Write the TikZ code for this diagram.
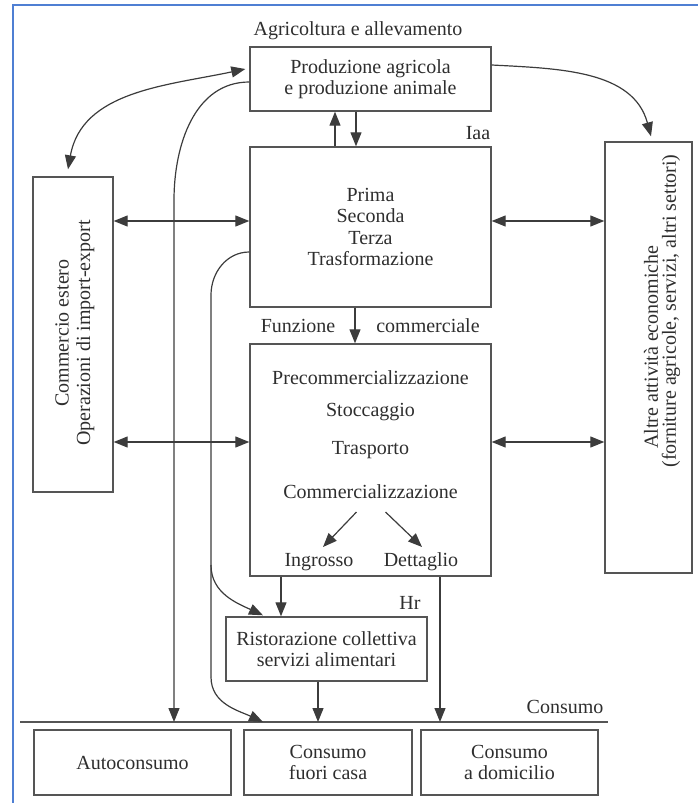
\documentclass[tikz,border=0pt]{standalone}
\usepackage{fontspec}
\setmainfont{Liberation Serif}
\usetikzlibrary{arrows.meta,calc}
\definecolor{linec}{HTML}{3C3C3C}
\definecolor{boxc}{HTML}{555555}
\definecolor{txtc}{HTML}{2E2E2E}
\definecolor{frameblue}{HTML}{4F7FD3}
\begin{document}
\begin{tikzpicture}[x=1pt,y=-1pt,
  lbl/.style={text=txtc, font=\fontsize{20}{21.5}\selectfont, inner sep=0pt, align=center},
  box/.style={lbl, draw=boxc, line width=1.4pt},
  conn/.style={draw=linec, line width=1.2pt},
  tipx/.tip={Triangle[length=14pt,width=11pt]},
  arr/.style={conn, -tipx},
  dbl/.style={conn, tipx-tipx},
  frame/.style={draw=frameblue, line width=2.6pt},
  cline/.style={draw=boxc, line width=1.6pt}
]
\path[use as bounding box] (0,0) rectangle (698,803);
\draw[frame] (13,803) -- (13,5) -- (698,5);

% boxes
\node[box, minimum width=241pt, minimum height=64pt] (prod) at (370.5,79) {Produzione agricola\\e produzione animale};
\node[lbl] (agri) at (358,31) {Agricoltura e allevamento};
\node[box, minimum width=241pt, minimum height=160pt] (iaa) at (370.5,227) {Prima\\Seconda\\Terza\\Trasformazione};
\node[lbl] (iaal) at (478,133) {Iaa};
\node[box, minimum width=241pt, minimum height=232pt] (comm) at (370.5,460) {};
\node[lbl] (funz) at (298,326) {Funzione};
\node[lbl] (commle) at (428,326) {commerciale};
\node[lbl] (t1) at (370.5,378) {Precommercializzazione};
\node[lbl] (t2) at (370.5,412) {Stoccaggio};
\node[lbl] (t3) at (370.5,450) {Trasporto};
\node[lbl] (t4) at (370.5,492) {Commercializzazione};
\node[lbl] (ingr) at (319,562) {Ingrosso};
\node[lbl] (dett) at (421,562) {Dettaglio};

\node[box, minimum width=80pt, minimum height=315pt] (estero) at (73,334.5) {};
\node[lbl, rotate=90] (esterot) at (75,333) {Commercio estero\\Operazioni di import-export};
\node[box, minimum width=87pt, minimum height=431pt] (altre) at (648.5,357.5) {};
\node[lbl, rotate=90] (altre1) at (651,347) {Altre attività economiche};
\node[lbl, rotate=90] (altre2) at (671,311) {(forniture agricole, servizi, altri settori)};

\node[lbl] (hr) at (410,603) {Hr};
\node[box, minimum width=201pt, minimum height=64pt] (risto) at (326.5,649) {Ristorazione collettiva\\servizi alimentari};
\node[lbl] (cons) at (565,707) {Consumo};
\coordinate (cl1) at (20,722);
\coordinate (cl2) at (608,722);
\node[box, minimum width=197pt, minimum height=65pt] (auto) at (132.5,762.5) {Autoconsumo};
\node[box, minimum width=168pt, minimum height=65pt] (fuori) at (328,762.5) {Consumo\\fuori casa};
\node[box, minimum width=177pt, minimum height=65pt] (domi) at (509.5,762.5) {Consumo\\a domicilio};

% helper coordinates
\coordinate (r1) at (0,221);
\coordinate (r2) at (0,442);
\coordinate (x281) at (281,0);
\coordinate (x318) at (318,0);
\coordinate (x440) at (440,0);
\coordinate (v1) at (174,200);
\coordinate (v2) at (211,295);
\coordinate (v3) at (211,677);
\coordinate (v4) at (211,565);
\coordinate (b1) at (263,722);

% consumo line
\draw[cline] (cl1) -- (cl2);

% vertical arrows top
\draw[arr] ([xshift=-35.5pt]iaa.north) -- ([xshift=-35.5pt]prod.south);
\draw[arr] ([xshift=-14.5pt]prod.south) -- ([xshift=-14.5pt]iaa.north);
\draw[arr] ([xshift=-15.5pt]iaa.south) -- ([xshift=-15.5pt]comm.north);

% horizontal double arrows
\draw[dbl] (estero.east |- r1) -- (iaa.west |- r1);
\draw[dbl] (iaa.east |- r1) -- (altre.west |- r1);
\draw[dbl] (estero.east |- r2) -- (comm.west |- r2);
\draw[dbl] (comm.east |- r2) -- (altre.west |- r2);

% curves at top
\draw[dbl] ([xshift=-4pt,yshift=10pt]prod.west) to[out=192,in=80] ([xshift=-5pt,yshift=7pt]estero.north);
\draw[arr] ([yshift=14pt]prod.east) to[out=-3,in=105] ([xshift=2.5pt,yshift=5pt]altre.north);
\draw[arr] ([yshift=-3pt]prod.west) to[out=180,in=90] (v1) -- (v1 |- cl1);

% curve from Iaa down
\draw[conn] ([yshift=-25pt]iaa.west) to[out=180,in=90] (v2) -- (v3);
\draw[arr] (v3) to[out=-90,in=155] (b1);
\draw[arr] (v4) to[out=-90,in=155] ([xshift=-63.5pt,yshift=1pt]risto.north);

% inner arrows
\draw[arr] ($(t4)+(-14,20)$) -- ($(ingr)+(4,-15)$);
\draw[arr] ($(t4)+(15,20)$) -- ($(dett)+(1,-15)$);

% lower arrows
\draw[arr] (x281 |- comm.south) -- (x281 |- risto.north);
\draw[arr] (x440 |- comm.south) -- (x440 |- cl1);
\draw[arr] (x318 |- risto.south) -- (x318 |- cl1);
\end{tikzpicture}
\end{document}
